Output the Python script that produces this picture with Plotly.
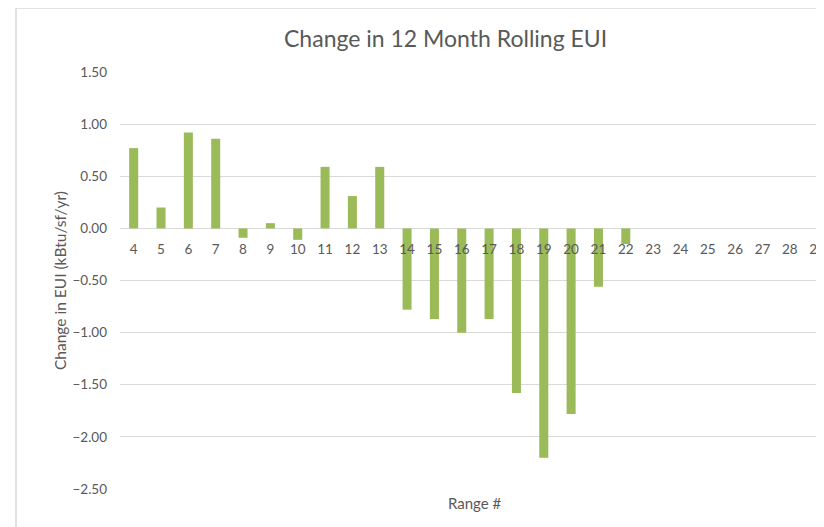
import plotly.graph_objects as go

categories = [str(i) for i in range(4, 30)]
values = [0.77, 0.20, 0.92, 0.86, -0.09, 0.05, -0.11, 0.59, 0.31, 0.59,
          -0.78, -0.87, -1.00, -0.87, -1.58, -2.20, -1.78, -0.56, -0.15,
          None, None, None, None, None, None, None]
y_ticks = [1.5, 1.0, 0.5, 0.0, -0.5, -1.0, -1.5, -2.0, -2.5]

TXT = "#595959"
GRID = "#D9D9D9"
FONT = "Lato, 'Open Sans', sans-serif"

OFF = 8  # default page body margin
W, H = 824 - OFF, 527 - OFF
L, R, T, B = 120 - OFF, 824 - OFF, 72 - OFF, 489 - OFF


def px_x(x):
    return (x - OFF - L) / (R - L)


def px_y(y):
    return (B - (y - OFF)) / (B - T)


fig = go.Figure()
fig.add_trace(go.Bar(x=categories, y=values, marker_color="#9BBB59",
                     marker_line_width=0))

zero_pos = px_y(228.5)

fig.update_layout(
    width=W, height=H,
    margin=dict(l=L, r=W - R, t=T, b=H - B, autoexpand=False),
    paper_bgcolor="white", plot_bgcolor="white",
    bargap=0.67, showlegend=False,
    font=dict(family=FONT, color=TXT, size=13),
    xaxis=dict(type="category", range=[-0.5, 25.25], showgrid=False,
               showline=False, zeroline=False, ticks="",
               anchor="free", position=zero_pos, ticklabelstandoff=11,
               tickfont=dict(size=13.5, color=TXT)),
    yaxis=dict(range=[-2.5, 1.5], tickvals=y_ticks, tickformat=".2f",
               showgrid=True, gridcolor=GRID, gridwidth=1,
               zeroline=True, zerolinecolor=GRID, zerolinewidth=1,
               showline=False, ticks="", ticklabelstandoff=12,
               tickfont=dict(size=13.5, color=TXT)),
)

# chart border
fig.add_shape(type="rect", xref="paper", yref="paper",
              x0=px_x(16), x1=1.2,
              y0=-0.3, y1=px_y(8),
              line=dict(color=GRID, width=1.5), fillcolor="rgba(0,0,0,0)",
              layer="below")

fig.add_annotation(text="Change in 12 Month Rolling EUI", xref="paper", yref="paper",
                   x=px_x(445), y=px_y(38),
                   showarrow=False, xanchor="center", yanchor="middle",
                   font=dict(size=23, color=TXT, family=FONT))
fig.add_annotation(text="Change in EUI (kBtu/sf/yr)", xref="paper", yref="paper",
                   x=px_x(60), y=px_y(281), textangle=-90,
                   showarrow=False, xanchor="center", yanchor="middle",
                   font=dict(size=15.5, color=TXT, family=FONT))
fig.add_annotation(text="Range #", xref="paper", yref="paper",
                   x=px_x(475), y=px_y(503),
                   showarrow=False, xanchor="center", yanchor="middle",
                   font=dict(size=15, color=TXT, family=FONT))

fig.write_html("out.html")
